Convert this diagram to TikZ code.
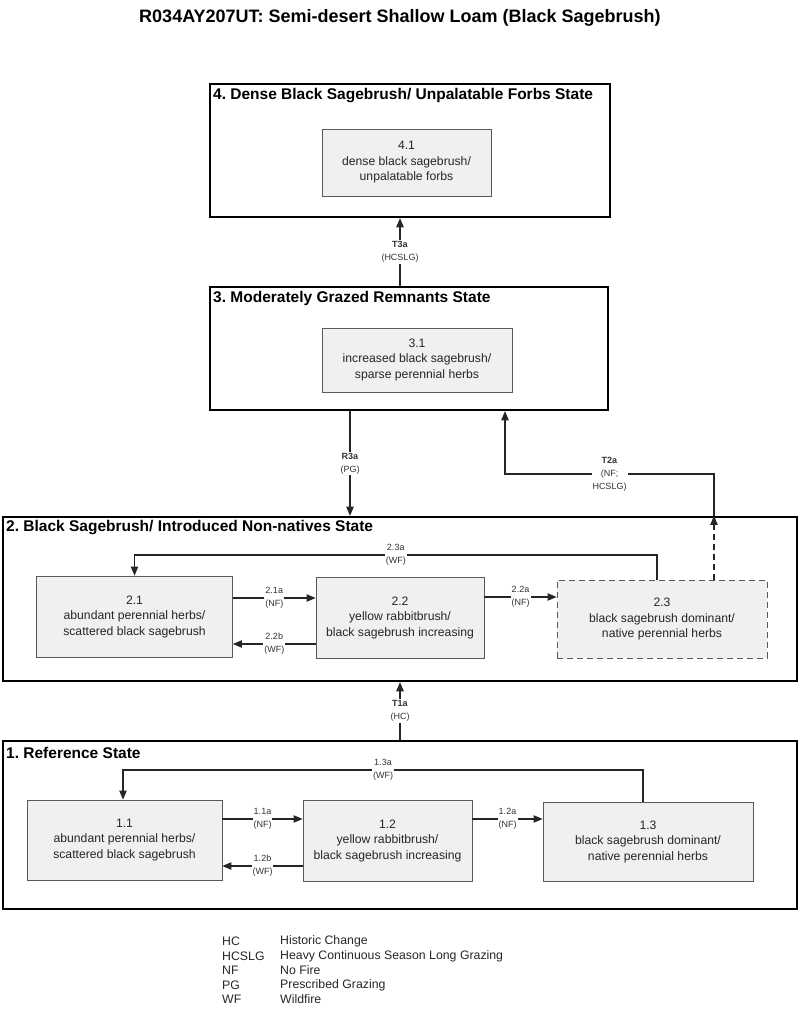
\documentclass[tikz,border=0pt]{standalone}
\usepackage{fontspec}
\setmainfont{Liberation Sans}
\usetikzlibrary{arrows}
\usetikzlibrary{shapes}
\frenchspacing

\begin{document}
\begin{tikzpicture}[x = 1pt, y = -1pt]
	\tikzstyle{StateStyle} = [shape = rectangle, draw, line width = 2.4pt, inner sep = 0pt]
	\tikzstyle{StateTitle} = [anchor = west, inner sep = 0pt, font = \fontsize{15.5}{18}\selectfont\bfseries]
	\tikzstyle{PhaseStyle} = [shape = rectangle, draw = black!65, line width = 0.8pt, fill = gray!12, text = black!85, align = center, font = \fontsize{12.2}{15.5}\selectfont]
	\tikzstyle{PathStyle} = [->, >=triangle 45, line width = 1.1pt, black!85]
	\tikzstyle{labelStyle} = [fill = white, align = center, inner sep = 1pt, text = black!80, font = \fontsize{9}{13}\selectfont]
	\tikzstyle{legendStyle} = [anchor = west, inner sep = 0pt, text = black!85, font = \fontsize{12.3}{14}\selectfont]
	\useasboundingbox (0,0) rectangle (800,1010);
	\node[inner sep = 0pt, font = \fontsize{18}{21}\selectfont\bfseries] (title) at (400,18) {R034AY207UT: Semi-desert Shallow Loam (Black Sagebrush)};
	% state boxes
	\node[StateStyle, minimum width = 400, minimum height = 133] (s4) at (410,150.5) {};
	\node[StateStyle, minimum width = 398, minimum height = 123] (s3) at (409,348.5) {};
	\node[StateStyle, minimum width = 794, minimum height = 164] (s2) at (400,599) {};
	\node[StateStyle, minimum width = 794, minimum height = 168] (s1) at (400,825) {};
	\node[StateTitle] (t4) at (213,96) {4. Dense Black Sagebrush/ Unpalatable Forbs State};
	\node[StateTitle] (t3) at (213,298) {3. Moderately Grazed Remnants State};
	\node[StateTitle] (t2) at (6,528) {2. Black Sagebrush/ Introduced Non-natives State};
	\node[StateTitle] (t1) at (6,753) {1. Reference State};
	% community phases
	\node[PhaseStyle, minimum width = 169, minimum height = 67] (c41) at (406.5,162.5) {4.1\\dense black sagebrush/\\unpalatable forbs};
	\node[PhaseStyle, minimum width = 190, minimum height = 64] (c31) at (417,360) {3.1\\increased black sagebrush/\\sparse perennial herbs};
	\node[PhaseStyle, minimum width = 196, minimum height = 81] (c21) at (134.5,616.5) {2.1\\abundant perennial herbs/\\scattered black sagebrush};
	\node[PhaseStyle, minimum width = 168, minimum height = 81] (c22) at (400,617.5) {2.2\\yellow rabbitbrush/\\black sagebrush increasing};
	\node[PhaseStyle, dashed, dash pattern = on 6pt off 4pt, minimum width = 210, minimum height = 78] (c23) at (662,619) {2.3\\black sagebrush dominant/\\native perennial herbs};
	\node[PhaseStyle, minimum width = 195, minimum height = 80] (c11) at (124.5,840) {1.1\\abundant perennial herbs/\\scattered black sagebrush};
	\node[PhaseStyle, minimum width = 169, minimum height = 81] (c12) at (387.5,840.5) {1.2\\yellow rabbitbrush/\\black sagebrush increasing};
	\node[PhaseStyle, minimum width = 210, minimum height = 79] (c13) at (648,841.5) {1.3\\black sagebrush dominant/\\native perennial herbs};
	% transitions between states
	\draw[PathStyle] (s3.north -| s2.north) -- node[labelStyle] {\textbf{T3a}\\(HCSLG)} (s4.south -| s2.north);
	\draw[PathStyle] (s3.south -| 350,0) -- node[labelStyle] {\textbf{R3a}\\(PG)} (s2.north -| 350,0);
	\draw[PathStyle, dashed, dash pattern = on 6pt off 4pt] (c23.north -| 714,0) -- (s2.north -| 714,0);
	\draw[PathStyle] (s2.north -| 714,0) -- (714,474) -- node[labelStyle] {\textbf{T2a}\\(NF;\\HCSLG)} (505,474) -- (s3.south -| 505,0);
	\draw[PathStyle] (s1.north) -- node[labelStyle] {\textbf{T1a}\\(HC)} (s2.south);
	% pathways in state 2
	\draw[PathStyle] (c21.east |- 0,598) -- node[labelStyle] {2.1a\\(NF)} (c22.west |- 0,598);
	\draw[PathStyle] (c22.west |- 0,644) -- node[labelStyle] {2.2b\\(WF)} (c21.east |- 0,644);
	\draw[PathStyle] (c22.east |- 0,597) -- node[labelStyle] {2.2a\\(NF)} (c23.west |- 0,597);
	\draw[PathStyle] (c23.north -| 657,0) -- (657,555) -- node[labelStyle] {2.3a\\(WF)} (c21.north |- 0,555) -- (c21.north);
	% pathways in state 1
	\draw[PathStyle] (c11.east |- 0,819) -- node[labelStyle] {1.1a\\(NF)} (c12.west |- 0,819);
	\draw[PathStyle] (c12.west |- 0,866) -- node[labelStyle] {1.2b\\(WF)} (c11.east |- 0,866);
	\draw[PathStyle] (c12.east |- 0,819) -- node[labelStyle] {1.2a\\(NF)} (c13.west |- 0,819);
	\draw[PathStyle] (c13.north -| 643,0) -- (643,770) -- node[labelStyle] {1.3a\\(WF)} (123,770) -- (c11.north -| 123,0);
	% legend
	\node[legendStyle] (k1) at (222,941) {HC};
	\node[legendStyle] (k2) at (222,956) {HCSLG};
	\node[legendStyle] (k3) at (222,970) {NF};
	\node[legendStyle] (k4) at (222,985) {PG};
	\node[legendStyle] (k5) at (222,999) {WF};
	\node[legendStyle] (d1) at (280,941) {Historic Change};
	\node[legendStyle] (d2) at (280,956) {Heavy Continuous Season Long Grazing};
	\node[legendStyle] (d3) at (280,970) {No Fire};
	\node[legendStyle] (d4) at (280,985) {Prescribed Grazing};
	\node[legendStyle] (d5) at (280,999) {Wildfire};
\end{tikzpicture}
\end{document}
